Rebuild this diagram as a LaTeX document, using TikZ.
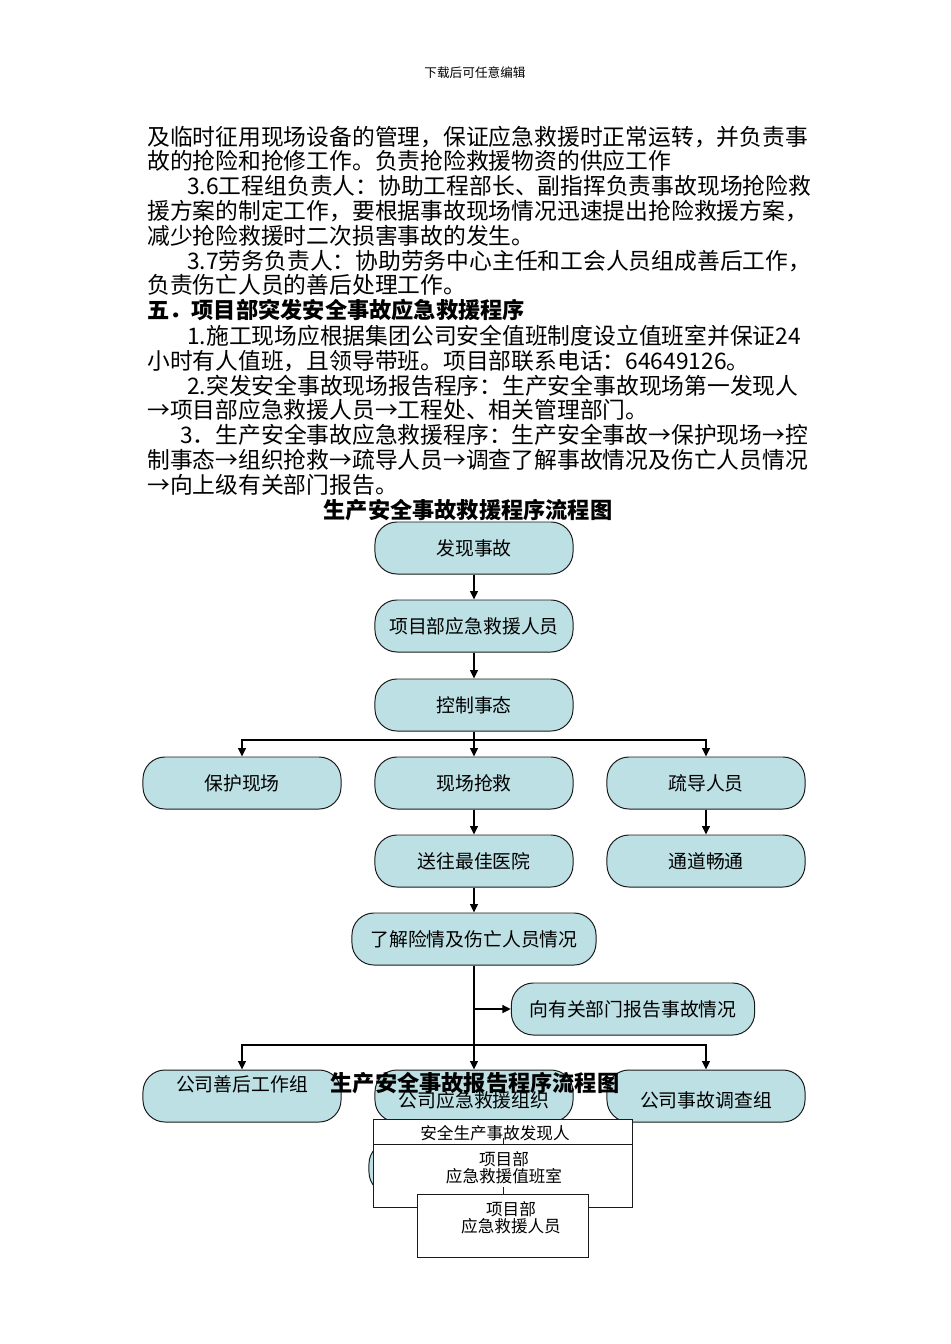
\documentclass[tikz,border=0pt]{standalone}
\usepackage{fontspec}
\setmainfont{Noto Sans CJK SC}
\usepackage{tikz}
\usetikzlibrary{arrows.meta}
\definecolor{pillfill}{HTML}{BCE0E4}
\definecolor{edge}{HTML}{1A1A1A}
\tikzset{
  note/.style={inner sep=0pt, font=\fontsize{9}{10}\selectfont},
  body/.style={anchor=west, inner sep=0pt, font=\fontsize{16.2}{18}\selectfont},
  head/.style={anchor=west, inner sep=0pt, font=\fontsize{15.8}{18}\selectfont\bfseries},
  title/.style={inner sep=0pt, font=\fontsize{15.8}{18}\selectfont\bfseries},
  pill/.style={draw=edge, fill=pillfill, line width=0.7pt, rounded corners=0.55cm,
    minimum width=4.95cm, minimum height=1.3cm, inner sep=0pt,
    font=\fontsize{13.4}{15}\selectfont},
  txtlow/.style={text height=18pt, text depth=2pt},
  txthigh/.style={text height=10pt, text depth=16pt},
  box/.style={draw=edge, fill=white, line width=0.6pt, inner sep=0pt},
  small/.style={inner sep=0pt, align=center, font=\fontsize{11.8}{11.8}\selectfont},
  link/.style={draw=black, line width=1.4pt},
  arr/.style={link, -{Triangle[length=6pt,width=5.5pt]}},
  thinline/.style={draw=edge, line width=0.6pt}
}
\begin{document}
\begin{tikzpicture}[x=0.025cm, y=-0.025cm]
  \useasboundingbox (0,0) rectangle (950,1344);
  \fill[white] (0,0) rectangle (950,1344);

  \node[note] (note) at (475,73) {下载后可任意编辑};

  % text of the page
  \node[body] (l1) at (147,137) {及临时征用现场设备的管理，保证应急救援时正常运转，并负责事};
  \node[body] (l2) at (147,161) {故的抢险和抢修工作。负责抢险救援物资的供应工作};
  \node[body] (l3) at (187,186) {3.6工程组负责人：协助工程部长、副指挥负责事故现场抢险救};
  \node[body] (l4) at (147,211) {援方案的制定工作，要根据事故现场情况迅速提出抢险救援方案，};
  \node[body] (l5) at (147,236) {减少抢险救援时二次损害事故的发生。};
  \node[body] (l6) at (187,261) {3.7劳务负责人：协助劳务中心主任和工会人员组成善后工作，};
  \node[body] (l7) at (147,285) {负责伤亡人员的善后处理工作。};
  \node[head] (l8) at (147,310) {五．项目部突发安全事故应急救援程序};
  \node[body] (l9) at (187,336) {1.施工现场应根据集团公司安全值班制度设立值班室并保证24};
  \node[body] (l10) at (147,361) {小时有人值班，且领导带班。项目部联系电话：64649126。};
  \node[body] (l11) at (187,386) {2.突发安全事故现场报告程序：生产安全事故现场第一发现人};
  \node[body] (l12) at (147,410) {→项目部应急救援人员→工程处、相关管理部门。};
  \node[body] (l13) at (180,435) {3．生产安全事故应急救援程序：生产安全事故→保护现场→控};
  \node[body] (l14) at (147,460) {制事态→组织抢救→疏导人员→调查了解事故情况及伤亡人员情况};
  \node[body] (l15) at (147,485) {→向上级有关部门报告。};

  \node[title] (title1) at (468,510) {生产安全事故救援程序流程图};

  % rescue chart
  \node[pill] (faxian) at (474,548) {发现事故};
  \node[pill] (xiangmu) at (474,626) {项目部应急救援人员};
  \node[pill] (kongzhi) at (474,705) {控制事态};
  \node[pill] (baohu) at (242,783) {保护现场};
  \node[pill] (qiangjiu) at (474,783) {现场抢救};
  \node[pill] (shudao) at (706,783) {疏导人员};
  \node[pill] (yiyuan) at (474,861) {送往最佳医院};
  \node[pill] (tongdao) at (706,861) {通道畅通};
  \node[pill, minimum width=6.1cm] (liaojie) at (474,939) {了解险情及伤亡人员情况};
  \node[pill, minimum width=6.08cm] (baogao) at (633,1009) {向有关部门报告事故情况};
  \node[pill, txthigh] (shanhou) at (242,1096) {公司善后工作组};
  \node[pill, txtlow] (zuzhi) at (474,1096) {公司应急救援组织};
  \node[pill, txtlow] (diaocha) at (706,1096) {公司事故调查组};

  \coordinate (fork1) at (474,740);
  \coordinate (fork2) at (474,1045);
  \coordinate (branch) at (474,1009);

  \draw[arr] (faxian) -- (xiangmu);
  \draw[arr] (xiangmu) -- (kongzhi);
  \draw[link] (kongzhi) -- (fork1);
  \draw[arr] (fork1) -| (baohu);
  \draw[arr] (fork1) -- (qiangjiu);
  \draw[arr] (fork1) -| (shudao);
  \draw[arr] (qiangjiu) -- (yiyuan);
  \draw[arr] (shudao) -- (tongdao);
  \draw[arr] (yiyuan) -- (liaojie);
  \draw[link] (liaojie) -- (fork2);
  \draw[arr] (branch) -- (baogao);
  \draw[arr] (fork2) -| (shanhou);
  \draw[arr] (fork2) -- (zuzhi);
  \draw[arr] (fork2) -| (diaocha);

  % report chart, lying over the rescue chart
  \node[pill, minimum width=5cm] (hidden) at (469,1168) {};
  \node[box, minimum width=6.475cm, minimum height=0.625cm] (faxianren) at (502.5,1131.5) {};
  \node[box, minimum width=6.475cm, minimum height=1.575cm] (zhibanshi) at (502.5,1175.5) {};
  \node[small] (faxianrentxt) at (495,1133) {安全生产事故发现人};
  \node[small] (zhibanshitxt) at (504,1168) {项目部\\应急救援值班室};
  \coordinate (c1) at (503,1138);
  \coordinate (c2) at (503,1187);
  \draw[thinline] (c1) -- (c1 |- zhibanshi.north);
  \draw[thinline] (c2) -- (c2 |- zhibanshi.south);
  \node[box, minimum width=4.275cm, minimum height=1.575cm] (renyuan) at (502.5,1225.5) {};
  \node[small] (renyuantxt) at (511,1218) {项目部\\应急救援人员};

  \node[title] (title2) at (475,1083) {生产安全事故报告程序流程图};
\end{tikzpicture}
\end{document}
